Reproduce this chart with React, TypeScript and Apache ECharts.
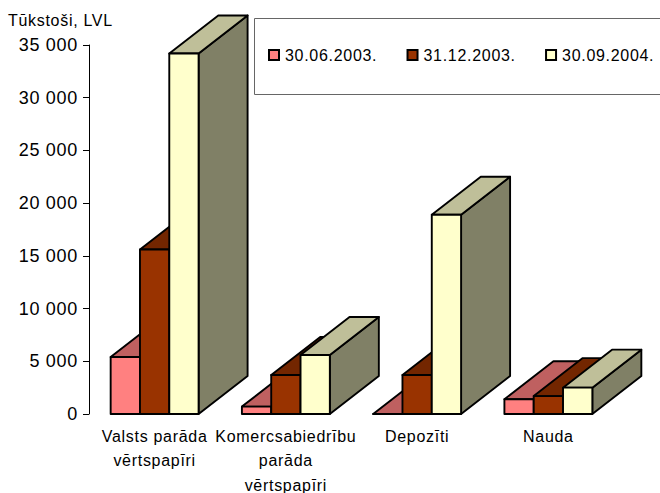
import React, { useEffect, useRef } from "react";
import * as echarts from "echarts";

const categories = ["Valsts parāda\nvērtspapīri", "Komercsabiedrību\nparāda\nvērtspapīri", "Depozīti", "Nauda"];
const seriesNames = ["30.06.2003.", "31.12.2003.", "30.09.2004."];
const values2003a = [5400, 700, 0, 1400];
const values2003b = [15600, 3700, 3700, 1700];
const values2004 = [34200, 5600, 18900, 2500];
const frontColors = ["#FF8080", "#993300", "#FFFFCC"];
const topColors = ["#BF6060", "#732600", "#BFBF99"];
const sideColors = ["#804040", "#4D1A00", "#808066"];
const yTicks = { min: 0, max: 35000, interval: 5000 };

const FONT = "'Liberation Sans', Arial, sans-serif";
const DX = 49;
const DY = 38;
const BAR_RATIO = 29.3 / 131.2;

function makeRender(s: number) {
  return (_p: any, api: any) => {
    const cat = api.value(0);
    const val = api.value(1);
    const band = api.size([1, 0])[0];
    const bw = band * BAR_RATIO;
    const c = api.coord([cat, val]);
    const base = api.coord([cat, 0]);
    const x0 = c[0] + (s - 1.5) * bw;
    const x1 = x0 + bw;
    const yT = c[1];
    const yB = base[1];
    const stroke = { stroke: "#000", lineWidth: 1.9, lineJoin: "round" };
    return {
      type: "group",
      children: [
        {
          type: "polygon",
          shape: { points: [[x1, yB], [x1 + DX, yB - DY], [x1 + DX, yT - DY], [x1, yT]] },
          style: { fill: sideColors[s], ...stroke },
        },
        {
          type: "polygon",
          shape: { points: [[x0, yT], [x0 + DX, yT - DY], [x1 + DX, yT - DY], [x1, yT]] },
          style: { fill: topColors[s], ...stroke },
        },
        {
          type: "rect",
          shape: { x: x0, y: yT, width: bw, height: yB - yT },
          style: { fill: frontColors[s], ...stroke },
        },
      ],
    };
  };
}

export default function App() {
  const ref = useRef<HTMLDivElement>(null);
  useEffect(() => {
    const chart = echarts.init(ref.current!, undefined, { renderer: "svg" });
    const all = [values2003a, values2003b, values2004];
    chart.setOption({
      animation: false,
      backgroundColor: "#fff",
      title: {
        text: "Tūkstoši, LVL",
        left: 8,
        top: 12,
        padding: 0,
        textStyle: { fontFamily: FONT, fontSize: 16, fontWeight: "normal", color: "#000" },
      },
      graphic: [
        {
          type: "rect",
          z: 0,
          shape: { x: 254.5, y: 18.5, width: 420, height: 76 },
          style: { fill: "#fff", stroke: "#666", lineWidth: 1 },
        },
      ],
      legend: {
        left: 268,
        top: 47,
        padding: 0,
        icon: "rect",
        itemWidth: 10,
        itemHeight: 10,
        itemGap: 37,
        selectedMode: false,
        data: seriesNames,
        textStyle: { fontFamily: FONT, fontSize: 16, color: "#000", padding: [0, 0, 0, 1] },
      },
      grid: { left: 89, right: 46, top: 45, bottom: 79, outerBoundsMode: "none" },
      xAxis: {
        type: "category",
        data: categories,
        axisLine: { show: false },
        axisTick: { show: false },
        axisLabel: {
          interval: 0,
          margin: 10,
          lineHeight: 24.5,
          fontFamily: FONT,
          fontSize: 16,
          color: "#000",
          verticalAlign: "top",
        },
      },
      yAxis: {
        type: "value",
        ...yTicks,
        splitLine: { show: false },
        axisLine: { show: true, lineStyle: { color: "#000", width: 1 } },
        axisTick: { show: true, length: 6, lineStyle: { color: "#000", width: 1 } },
        axisLabel: {
          margin: 11,
          fontFamily: FONT,
          fontSize: 18,
          color: "#000",
          formatter: (v: number) => String(v).replace(/\B(?=(\d{3})+$)/g, " "),
        },
      },
      series: all.map((vals, s) => ({
        type: "custom",
        name: seriesNames[s],
        clip: false,
        renderItem: makeRender(s),
        encode: { x: 0, y: 1 },
        data: vals.map((v, i) => [i, v]),
        itemStyle: { color: frontColors[s], borderColor: "#000", borderWidth: 1.5 },
      })),
    });
    return () => chart.dispose();
  }, []);
  return (
    <div
      ref={ref}
      style={{ position: "fixed", left: 0, top: 0, width: 660, height: 493, letterSpacing: "0.7px" }}
    />
  );
}
